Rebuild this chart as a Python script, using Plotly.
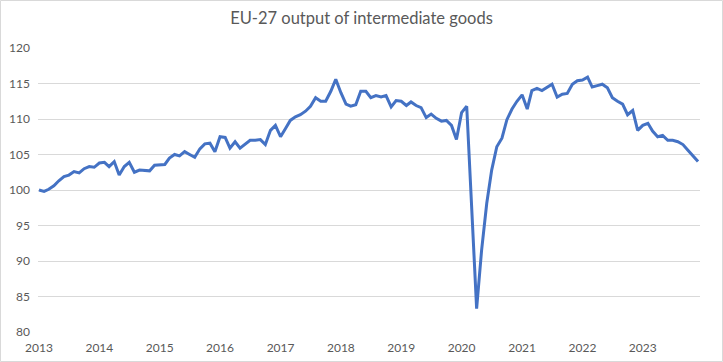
import pandas as pd
import plotly.graph_objects as go

months = pd.date_range("2013-01-01", "2023-12-01", freq="MS")
output_index = [
    100.0, 99.8, 100.1, 100.6, 101.3, 101.9, 102.1, 102.6, 102.4, 103.0, 103.3, 103.2,
    103.8, 103.9, 103.3, 104.0, 102.1, 103.3, 103.9, 102.5, 102.8, 102.7, 102.7, 103.5,
    103.5, 103.6, 104.5, 105.0, 104.8, 105.4, 105.0, 104.6, 105.8, 106.5, 106.6, 105.4,
    107.5, 107.4, 105.9, 106.8, 105.9, 106.4, 107.0, 107.0, 107.1, 106.4, 108.4, 109.1,
    107.5, 108.7, 109.8, 110.3, 110.6, 111.1, 111.8, 113.0, 112.5, 112.5, 113.9, 115.6,
    113.7, 112.1, 111.8, 112.0, 113.9, 113.9, 113.0, 113.3, 113.1, 113.3, 111.7, 112.6,
    112.5, 111.9, 112.4, 111.9, 111.6, 110.2, 110.7, 110.1, 109.7, 109.8, 109.1, 107.1,
    110.9, 111.8, 98.0, 83.3, 91.5, 98.1, 102.8, 106.1, 107.3, 109.9, 111.4, 112.5,
    113.4, 111.4, 114.0, 114.3, 114.0, 114.4, 114.9, 113.1, 113.5, 113.6, 114.9, 115.4,
    115.5, 115.9, 114.5, 114.7, 114.9, 114.4, 113.0, 112.5, 112.1, 110.6, 111.2, 108.4,
    109.1, 109.4, 108.3, 107.5, 107.7, 107.0, 107.0, 106.8, 106.4, 105.6, 104.8, 104.0,
]
y_ticks = [80, 85, 90, 95, 100, 105, 110, 115, 120]
title_text = "EU-27 output of intermediate goods"

W, H = 723, 362
ml, mr, mt, mb = 38, 23, 48, 30

fig = go.Figure()
fig.add_trace(go.Scatter(
    x=months, y=output_index, mode="lines",
    line=dict(color="#4472C4", width=3), hoverinfo="skip", showlegend=False,
))

pw = W - ml - mr
ph = H - mt - mb
fig.update_layout(
    width=W, height=H,
    margin=dict(l=ml, r=mr, t=mt, b=mb, autoexpand=False),
    paper_bgcolor="white", plot_bgcolor="white",
    font=dict(family="Lato, Calibri, Arial", color="#595959", size=12),
    title=dict(text=title_text, x=0.5, xanchor="center", y=1 - 18 / H, yanchor="middle",
               font=dict(size=16.5, color="#595959", family="Lato, Calibri, Arial")),
    xaxis=dict(
        type="date", range=["2012-12-26", "2023-12-13"],
        tick0="2013-01-01", dtick="M12", tickformat="%Y",
        showgrid=False, zeroline=False, showline=False, ticks="",
        tickfont=dict(size=12, color="#595959"), automargin=False,
        ticklabelstandoff=7,
    ),
    yaxis=dict(
        range=[80, 120], tickvals=y_ticks,
        showgrid=True, gridcolor="#D9D9D9", gridwidth=1,
        zeroline=False, showline=False, ticks="",
        tickfont=dict(size=12, color="#595959"), automargin=False,
        ticklabelstandoff=7,
    ),
    shapes=[dict(
        type="rect", xref="paper", yref="paper",
        x0=(-ml + 0.5) / pw, x1=1 + (mr - 0.5) / pw,
        y0=(-mb + 0.5) / ph, y1=1 + (mt - 0.5) / ph,
        line=dict(color="#D9D9D9", width=1), fillcolor="rgba(0,0,0,0)", layer="below",
    )],
)

fig.write_html(
    "out.html",
    config={"displayModeBar": False, "staticPlot": True},
    post_script="document.body.style.margin='0';document.body.style.overflow='hidden';",
)
